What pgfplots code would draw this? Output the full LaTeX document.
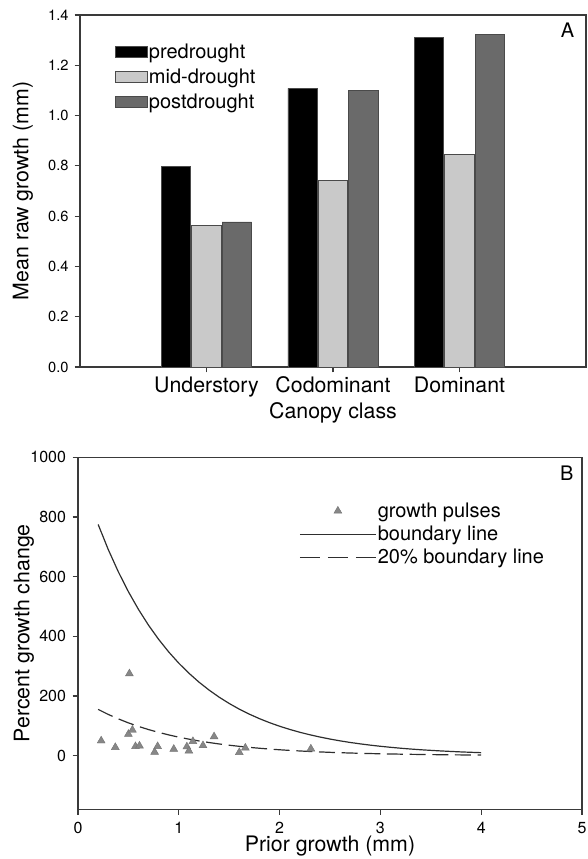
\documentclass[border=0pt]{standalone}
\usepackage{fontspec}
\setmainfont{TeX Gyre Heros}
\usepackage{pgfplots}
\pgfplotsset{compat=1.18}

\definecolor{axisgray}{HTML}{3A3A3A}
\definecolor{barline}{HTML}{4A4A4A}
\definecolor{barlight}{HTML}{C9C9C9}
\definecolor{bardark}{HTML}{6A6A6A}
\definecolor{markgray}{HTML}{878787}
\definecolor{curve}{HTML}{2E2E2E}

\pgfplotsset{
  panel/.style={
    scale only axis,
    axis line style={axisgray, line width=0.9pt},
    tick style={axisgray, line width=0.8pt},
    tick align=outside, major tick length=4pt,
    xtick pos=bottom, ytick pos=left,
    /pgf/number format/assume math mode=true,
    label style={font=\fontsize{16}{18}\selectfont},
  },
  dashedlegend/.style={
    legend image code/.code={\draw[curve, line width=0.9pt, dash pattern=on 15pt off 6pt] (0pt,0pt) -- (57pt,0pt);}
  },
}

\begin{document}
\begin{tikzpicture}
% ---------------- Panel A: mean raw growth by canopy class ----------------
\begin{axis}[
  panel,
  at={(60pt,-275.25pt)}, anchor=south west,
  width=379.5pt, height=264pt,
  xmin=0, xmax=4, ymin=0, ymax=1.4,
  xtick={1,2,3}, xticklabels={Understory,Codominant,Dominant},
  ytick={0,0.2,0.4,0.6,0.8,1.0,1.2,1.4},
  yticklabel style={/pgf/number format/fixed, /pgf/number format/fixed zerofill,
                    /pgf/number format/precision=1,
                    font=\fontsize{11}{13}\selectfont, anchor=east, xshift=-1pt},
  xticklabel style={font=\fontsize{16}{18}\selectfont, anchor=base, yshift=-14.75pt},
  xlabel={Canopy class},
  xlabel style={at={(axis description cs:0.5,-0.1463)}, anchor=base},
  ylabel={Mean raw growth (mm)},
  ylabel style={at={(axis description cs:-0.1018,0.5)}, anchor=base},
  bar width=0.232,
  legend cell align=left,
  legend style={at={(axis description cs:0.069,0.923)}, anchor=north west,
    draw=none, fill=none, inner sep=0pt, row sep=4.4pt,
    nodes={inner sep=1pt},
    font=\fontsize{15}{17}\selectfont,
    /tikz/every even column/.append style={column sep=4pt}},
]
\addplot[ybar, bar shift=-0.24, fill=black, draw=barline, line width=0.6pt, forget plot]
  coordinates {(1,0.796) (2,1.108) (3,1.310)};
\addplot[ybar, bar shift=0, fill=barlight, draw=barline, line width=0.6pt, forget plot]
  coordinates {(1,0.564) (2,0.742) (3,0.845)};
\addplot[ybar, bar shift=0.24, fill=bardark, draw=barline, line width=0.6pt, forget plot]
  coordinates {(1,0.577) (2,1.101) (3,1.323)};

\addlegendimage{legend image code/.code={\draw[fill=black, draw=barline, line width=0.6pt] (0pt,-4pt) rectangle (23.7pt,4pt);}}
\addlegendentry{predrought}
\addlegendimage{legend image code/.code={\draw[fill=barlight, draw=barline, line width=0.6pt] (0pt,-4pt) rectangle (23.7pt,4pt);}}
\addlegendentry{mid-drought}
\addlegendimage{legend image code/.code={\draw[fill=bardark, draw=barline, line width=0.6pt] (0pt,-4pt) rectangle (23.7pt,4pt);}}
\addlegendentry{postdrought}

\node[font=\fontsize{15}{17}\selectfont] at (rel axis cs:0.9634,0.957) {A};
\end{axis}

% ---------------- Panel B: growth pulses against prior growth ----------------
\begin{axis}[
  panel,
  at={(58.5pt,-607pt)}, anchor=south west,
  width=378pt, height=264pt,
  xmin=0, xmax=5, ymin=-180, ymax=1000,
  xtick={0,1,2,3,4,5},
  ytick={0,200,400,600,800,1000},
  tick label style={font=\fontsize{12}{14}\selectfont},
  yticklabel style={/pgf/number format/1000 sep={}, anchor=east, xshift=-1.5pt},
  xticklabel style={anchor=base, yshift=-13.8pt},
  xlabel={Prior growth (mm)},
  xlabel style={at={(axis description cs:0.5,-0.1193)}, anchor=base},
  ylabel={Percent growth change},
  ylabel style={at={(axis description cs:-0.0966,0.5)}, anchor=base},
  legend cell align=left,
  legend image code/.code={\draw[mark repeat=2, mark phase=2, #1]
      plot coordinates {(0pt,0pt) (28.5pt,0pt) (57pt,0pt)};},
  legend style={at={(axis description cs:0.4385,0.876)}, anchor=north west,
    draw=none, fill=none, inner sep=0pt, row sep=3.1pt,
    nodes={inner sep=1pt},
    font=\fontsize{15}{17}\selectfont,
    /tikz/every even column/.append style={column sep=5pt}},
]
\addplot[only marks, mark=triangle*, mark size=3.4pt,
  mark options={fill=markgray, draw=markgray!85!black, line width=0.3pt}]
  coordinates {
  (0.23,50) (0.37,28) (0.51,275) (0.50,72) (0.54,86) (0.57,31)
  (0.61,33) (0.76,12) (0.79,31) (0.95,22) (1.08,30) (1.10,16)
  (1.14,48) (1.24,34) (1.35,64) (1.60,11) (1.66,26) (2.31,23)
  };
\addlegendentry{growth pulses}

\addplot[curve, line width=0.9pt] coordinates {
  (0.2,775) (0.3,691.1) (0.4,616.3) (0.5,549.6) (0.6,490.2) (0.7,437.1)
  (0.8,389.8) (0.9,347.6) (1.0,310.0) (1.1,276.5) (1.2,246.5) (1.3,219.9)
  (1.4,196.1) (1.5,174.9) (1.6,155.9) (1.7,139.1) (1.8,124.0) (1.9,110.6)
  (2.0,98.6) (2.1,88.0) (2.2,78.4) (2.3,70.0) (2.4,62.4) (2.5,55.6)
  (2.6,49.6) (2.7,44.2) (2.8,39.5) (2.9,35.2) (3.0,31.4) (3.1,28.0)
  (3.2,24.9) (3.3,22.2) (3.4,19.8) (3.5,17.7) (3.6,15.8) (3.7,14.1)
  (3.8,12.5) (3.9,11.2) (4.0,10.0)
  };
\addlegendentry{boundary line}

\addplot[curve, line width=0.9pt, dash pattern=on 12pt off 5pt, dashedlegend]
  coordinates {
  (0.2,155.0) (0.3,138.2) (0.4,123.3) (0.5,109.9) (0.6,98.0) (0.7,87.4)
  (0.8,78.0) (0.9,69.5) (1.0,62.0) (1.1,55.3) (1.2,49.3) (1.3,44.0)
  (1.4,39.2) (1.5,35.0) (1.6,31.2) (1.7,27.8) (1.8,24.8) (1.9,22.1)
  (2.0,19.7) (2.1,17.6) (2.2,15.7) (2.3,14.0) (2.4,12.5) (2.5,11.1)
  (2.6,9.9) (2.7,8.8) (2.8,7.9) (2.9,7.0) (3.0,6.3) (3.1,5.6)
  (3.2,5.0) (3.3,4.4) (3.4,4.0) (3.5,3.5) (3.6,3.2) (3.7,2.8)
  (3.8,2.5) (3.9,2.2) (4.0,2.0)
  };
\addlegendentry{20\% boundary line}

\node[font=\fontsize{15}{17}\selectfont] at (rel axis cs:0.970,0.955) {B};
\end{axis}

\pgfresetboundingbox
\path[use as bounding box] (0pt,0pt) rectangle (441pt,-644.25pt);
\end{tikzpicture}
\end{document}
